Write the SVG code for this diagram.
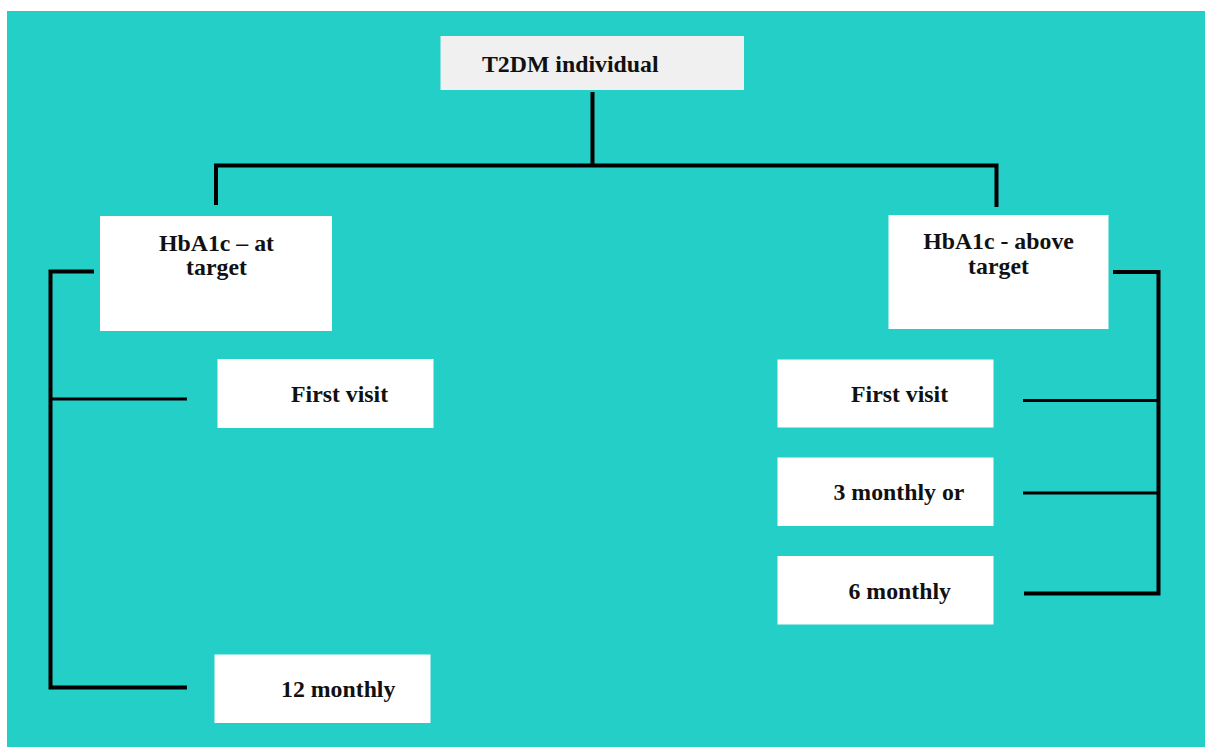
<svg xmlns="http://www.w3.org/2000/svg" width="1205" height="747" viewBox="0 0 1205 747">
<style>
.box{fill:#ffffff}
.top{fill:#f0f0f0}
.t{font-family:"Liberation Serif","Times New Roman",serif;font-weight:bold;font-size:23.8px;fill:#111111}
.c{text-anchor:middle}
.ln{stroke:#000000;stroke-width:4;fill:none;stroke-linecap:butt;stroke-linejoin:miter}
.br{stroke:#000000;stroke-width:3;fill:none}
</style>
<rect x="0" y="0" width="1205" height="747" fill="#ffffff"/>
<rect x="7" y="11" width="1198" height="736" fill="#24cfc8"/>
<g id="connectors">
<line class="ln" x1="592.5" y1="92" x2="592.5" y2="165.5"/>
<polyline class="ln" points="216,205 216,165.5 996.5,165.5 996.5,207"/>
<polyline class="ln" points="94,271.5 50.5,271.5 50.5,687.5 187,687.5"/>
<line class="br" x1="50.5" y1="399" x2="187" y2="399"/>
<polyline class="ln" points="1113,272 1158.5,272 1158.5,593.5 1024,593.5"/>
<line class="br" x1="1023" y1="400.5" x2="1158.5" y2="400.5"/>
<line class="br" x1="1023" y1="493" x2="1158.5" y2="493"/>
</g>
<g id="t2dm">
<rect class="top" x="440.5" y="36" width="303.5" height="54"/>
<text class="t" x="482" y="72">T2DM individual</text>
</g>
<g id="at-target">
<rect class="box" x="100" y="216" width="232" height="115"/>
<text class="t c" x="216.5" y="250.5">HbA1c – at</text>
<text class="t c" x="216.5" y="274.5">target</text>
</g>
<g id="above-target">
<rect class="box" x="888.5" y="215" width="220" height="114"/>
<text class="t c" x="998.5" y="249">HbA1c - above</text>
<text class="t c" x="998.5" y="274">target</text>
</g>
<g id="left-first-visit">
<rect class="box" x="217.5" y="359" width="216" height="69"/>
<text class="t" x="291" y="402">First visit</text>
</g>
<g id="left-12-monthly">
<rect class="box" x="214.5" y="654.5" width="216" height="68.5"/>
<text class="t" x="281" y="697">12 monthly</text>
</g>
<g id="right-first-visit">
<rect class="box" x="777.5" y="359.5" width="216" height="68"/>
<text class="t" x="851" y="401.5">First visit</text>
</g>
<g id="right-3-monthly">
<rect class="box" x="777.5" y="457.5" width="216" height="68.5"/>
<text class="t" x="833.5" y="500">3 monthly or</text>
</g>
<g id="right-6-monthly">
<rect class="box" x="777.5" y="556" width="216" height="68.5"/>
<text class="t" x="848.5" y="598.5">6 monthly</text>
</g>
</svg>
